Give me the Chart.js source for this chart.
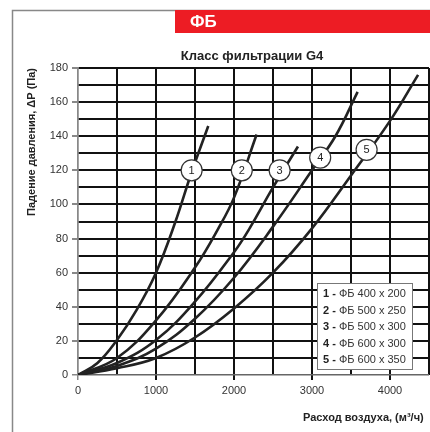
<!DOCTYPE html>
<html>
<head>
<meta charset="utf-8">
<script src="https://cdn.jsdelivr.net/npm/chart.js@4/dist/chart.umd.min.js"></script>
<style>
html,body{margin:0;padding:0;background:#fff;}
#wrap{width:430px;height:432px;position:relative;}
</style>
</head>
<body>
<div id="wrap"><canvas id="c" width="430" height="432"></canvas></div>
<script>
// ---- Data ----
const flow1 = [0, 250, 500, 750, 1000, 1250, 1450, 1670];
const dp1   = [0, 7, 20.5, 38, 60, 90, 118, 146];
const flow2 = [0, 500, 1000, 1500, 1800, 2000, 2290];
const dp2   = [0, 10, 32, 63, 86, 104, 141];
const flow3 = [0, 500, 1000, 1500, 2000, 2200, 2500, 2820];
const dp3   = [0, 7, 20.5, 43, 72, 86, 110, 134];
const flow4 = [0, 500, 1000, 1500, 2000, 2500, 3000, 3300, 3585];
const dp4   = [0, 5.3, 15.5, 33, 57, 87, 120, 140, 166];
const flow5 = [0, 500, 1000, 1500, 2000, 2500, 3000, 3500, 4000, 4360];
const dp5   = [0, 4, 10, 22, 39, 60, 86, 117, 149, 176];

const curveNames = ['1', '2', '3', '4', '5'];
const curveLabelFlow = [1457, 2100, 2585, 3105, 3700];
const curveLabelDp   = [120, 120, 120, 127.5, 132];
const legendNames = ['ФБ 400 x 200', 'ФБ 500 x 250', 'ФБ 500 x 300', 'ФБ 600 x 300', 'ФБ 600 x 350'];

const titleText = 'Класс фильтрации G4';
const bannerText = 'ФБ';
const yTitle = 'Падение давления, \u0394P (Па)';
const xTitle = 'Расход воздуха, (м\u00B3/ч)';

const FONT = '"Liberation Sans", Arial, sans-serif';

function pts(xs, ys) { return xs.map((x, i) => ({x: x, y: ys[i]})); }
const series = [[flow1, dp1], [flow2, dp2], [flow3, dp3], [flow4, dp4], [flow5, dp5]];

const datasets = series.map((s, i) => ({
  label: curveNames[i],
  data: pts(s[0], s[1]),
  borderColor: '#222',
  borderWidth: 2.6,
  pointRadius: 0,
  fill: false,
  tension: 0.4
}));

const decor = {
  id: 'decor',
  afterDatasetsDraw(chart) {
    const ctx = chart.ctx;
    const xs = chart.scales.x, ys = chart.scales.y;
    ctx.save();
    for (let i = 0; i < curveNames.length; i++) {
      const px = xs.getPixelForValue(curveLabelFlow[i]);
      const py = ys.getPixelForValue(curveLabelDp[i]);
      ctx.beginPath();
      ctx.arc(px, py, 10.5, 0, Math.PI * 2);
      ctx.fillStyle = '#fff';
      ctx.fill();
      ctx.lineWidth = 1.2;
      ctx.strokeStyle = '#333';
      ctx.stroke();
      ctx.fillStyle = '#222';
      ctx.font = '11px ' + FONT;
      ctx.textAlign = 'center';
      ctx.textBaseline = 'middle';
      ctx.fillText(curveNames[i], px, py + 0.5);
    }
    const bx = 317, by = 283, bw = 95, bh = 86;
    ctx.fillStyle = '#fff';
    ctx.fillRect(bx, by, bw, bh);
    ctx.strokeStyle = '#777';
    ctx.lineWidth = 1;
    ctx.strokeRect(bx + 0.5, by + 0.5, bw, bh);
    ctx.textAlign = 'left';
    ctx.textBaseline = 'middle';
    for (let i = 0; i < legendNames.length; i++) {
      const ty = by + 11 + i * 16.5;
      ctx.font = 'bold 11px ' + FONT;
      ctx.fillStyle = '#222';
      const pre = curveNames[i] + ' - ';
      ctx.fillText(pre, bx + 6, ty);
      const w = ctx.measureText(pre).width;
      ctx.font = '11px ' + FONT;
      ctx.fillStyle = '#333';
      ctx.fillText(legendNames[i], bx + 6 + w, ty);
    }
    ctx.restore();
  },
  afterDraw(chart) {
    const ctx = chart.ctx;
    ctx.save();
    ctx.strokeStyle = '#888';
    ctx.lineWidth = 1.5;
    ctx.beginPath();
    ctx.moveTo(12.5, 432);
    ctx.lineTo(12.5, 10.5);
    ctx.lineTo(430, 10.5);
    ctx.stroke();
    ctx.fillStyle = '#ED1C24';
    ctx.fillRect(175, 10, 255, 23);
    ctx.fillStyle = '#fff';
    ctx.font = 'bold 17px ' + FONT;
    ctx.textAlign = 'left';
    ctx.textBaseline = 'middle';
    ctx.fillText(bannerText, 190, 22);
    ctx.fillStyle = '#222';
    ctx.font = 'bold 13px ' + FONT;
    ctx.textAlign = 'center';
    ctx.fillText(titleText, 252, 56);
    ctx.font = 'bold 11px ' + FONT;
    ctx.textAlign = 'left';
    ctx.fillText(xTitle, 303, 418);
    ctx.translate(32, 142);
    ctx.rotate(-Math.PI / 2);
    ctx.textAlign = 'center';
    ctx.fillText(yTitle, 0, 0);
    ctx.restore();
  }
};

new Chart(document.getElementById('c'), {
  type: 'line',
  data: { datasets: datasets },
  options: {
    responsive: false,
    animation: false,
    layout: { padding: { top: 68, right: 1, left: 0, bottom: 0 } },
    plugins: { legend: { display: false }, tooltip: { enabled: false }, title: { display: false } },
    scales: {
      x: {
        type: 'linear',
        min: 0, max: 4500,
        ticks: {
          stepSize: 500,
          autoSkip: false,
          maxRotation: 0,
          color: '#333',
          font: { family: FONT, size: 11 },
          padding: 4,
          callback: v => (v % 1000 === 0 ? String(v) : '')
        },
        grid: {
          color: ctx => (ctx.tick && ctx.tick.value === 0 ? '#888' : '#111'),
          lineWidth: ctx => (ctx.tick && ctx.tick.value === 0 ? 1.5 : 2),
          tickLength: 5,
          tickColor: ctx => (ctx.tick && ctx.tick.value % 1000 === 0 ? (ctx.tick.value === 0 ? '#888' : '#111') : 'rgba(0,0,0,0)')
        },
        border: { display: false },
        afterFit: s => { s.height = 57; s.paddingRight = 0; }
      },
      y: {
        type: 'linear',
        min: 0, max: 180,
        ticks: {
          stepSize: 10,
          autoSkip: false,
          color: '#333',
          font: { family: FONT, size: 11 },
          padding: 4,
          callback: v => (v % 20 === 0 ? String(v) : '')
        },
        grid: {
          color: ctx => (ctx.tick && ctx.tick.value === 0 ? '#666' : '#111'),
          lineWidth: ctx => (ctx.tick && ctx.tick.value === 0 ? 1.5 : 2),
          tickLength: 6,
          tickColor: ctx => (ctx.tick && ctx.tick.value % 20 === 0 ? '#888' : 'rgba(0,0,0,0)')
        },
        border: { display: true, color: '#888', width: 1.5 },
        afterFit: s => { s.width = 78; }
      }
    }
  },
  plugins: [decor]
});
</script>
</body>
</html>
